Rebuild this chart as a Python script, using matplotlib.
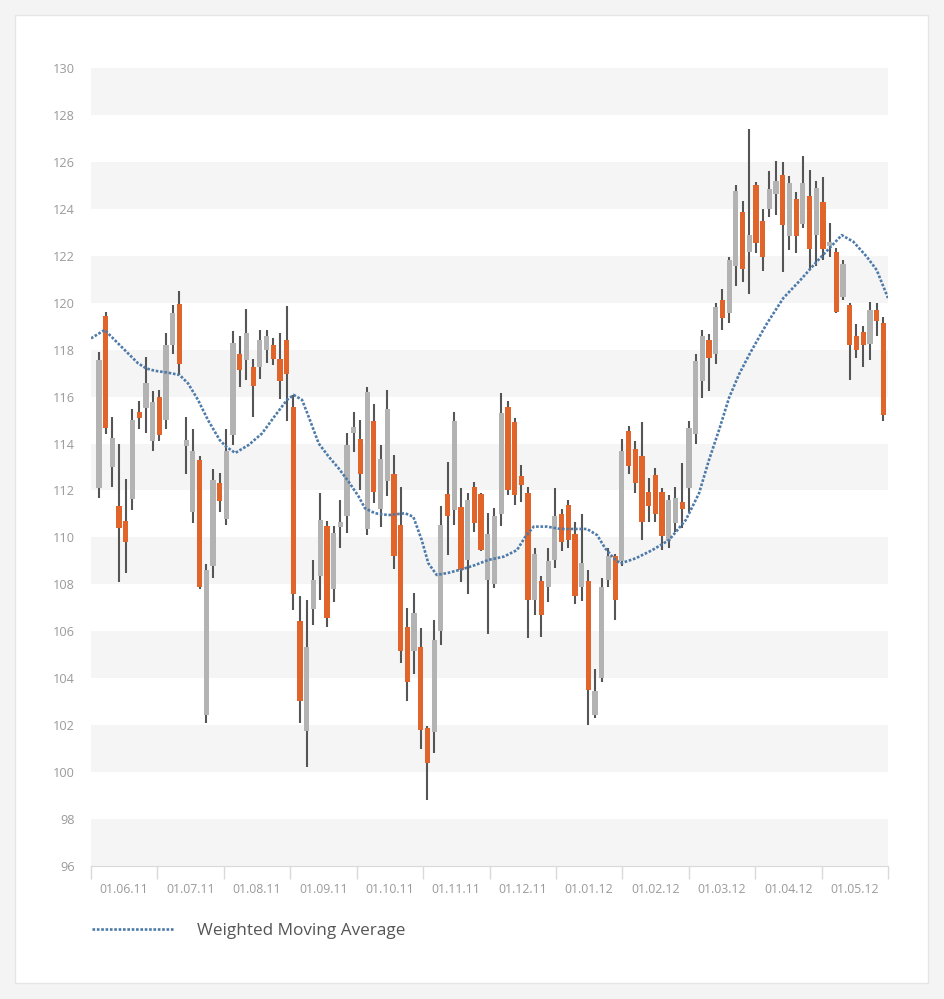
import numpy as np
import matplotlib.pyplot as plt
from matplotlib.patches import Rectangle
from matplotlib.lines import Line2D

# month labels (one category per month)
months = ['01.06.11', '01.07.11', '01.08.11', '01.09.11', '01.10.11', '01.11.11',
          '01.12.11', '01.01.12', '01.02.12', '01.03.12', '01.04.12', '01.05.12']

# OHLC, one entry per candle
opens = [112.1, 119.45, 113.0, 111.35, 110.7, 111.65, 115.35, 115.5, 114.1, 116.0,
         115.0, 118.2, 119.95, 113.9, 111.1, 113.3, 102.45, 108.8, 112.3, 110.8,
         114.35, 117.8, 117.55, 117.25, 117.25, 118.0, 118.2, 117.6, 118.4, 115.55,
         106.45, 101.75, 106.95, 108.35, 110.5, 107.8, 110.45, 110.9, 114.45, 114.2,
         110.35, 114.95, 111.2, 112.4, 112.7, 110.55, 106.2, 105.15, 105.35, 101.9,
         101.7, 106.0, 111.85, 111.15, 111.3, 109.05, 112.15, 111.85, 108.2, 108.0,
         111.0, 115.55, 114.9, 112.6, 111.9, 107.35, 108.15, 107.9, 109.05, 111.0,
         111.4, 110.15, 107.9, 108.15, 102.45, 104.0, 108.2, 109.2, 109.0, 114.55,
         113.75, 113.45, 111.95, 112.65, 111.95, 109.85, 110.6, 111.5, 112.1, 114.4,
         116.65, 118.4, 117.8, 120.1, 119.55, 121.55, 123.85, 122.15, 125.0, 123.5,
         124.0, 124.65, 125.45, 122.85, 124.4, 123.35, 124.55, 122.9, 124.3, 122.4,
         122.15, 120.25, 119.9, 118.6, 118.75, 118.25, 119.7, 119.15]
highs = [117.9, 119.6, 115.15, 114.0, 112.5, 115.45, 115.8, 117.7, 116.25, 116.3,
         118.7, 119.9, 120.5, 115.15, 114.6, 113.45, 108.85, 112.9, 112.75, 114.6,
         118.8, 118.6, 119.75, 117.6, 118.85, 118.85, 118.5, 118.7, 119.85, 116.05,
         107.5, 107.35, 109.05, 111.9, 110.7, 110.5, 111.6, 114.45, 115.35, 115.0,
         116.4, 115.7, 113.95, 116.3, 113.5, 112.15, 107.0, 107.65, 106.15, 101.95,
         106.5, 111.35, 113.2, 115.35, 112.1, 111.9, 112.35, 111.9, 111.05, 111.25,
         116.15, 115.8, 115.1, 113.1, 112.15, 109.55, 108.35, 109.55, 112.1, 111.2,
         111.6, 110.65, 111.0, 108.6, 104.4, 108.25, 109.55, 109.3, 114.2, 114.75,
         114.1, 114.9, 112.55, 112.95, 112.1, 111.8, 112.15, 113.15, 114.95, 117.8,
         118.85, 118.65, 120.0, 120.6, 121.95, 125.0, 124.35, 127.4, 125.15, 124.0,
         125.6, 126.05, 126.0, 125.4, 124.7, 126.25, 125.65, 125.2, 125.35, 123.4,
         122.35, 121.8, 120.0, 119.1, 119.0, 120.05, 120.0, 119.4]
lows = [111.7, 114.4, 112.15, 108.1, 108.5, 111.15, 114.6, 114.45, 113.7, 114.1,
        114.6, 117.8, 116.9, 112.7, 110.6, 107.8, 102.1, 108.25, 111.1, 110.55,
        113.95, 116.4, 116.7, 115.15, 116.75, 117.45, 117.35, 115.9, 114.95, 106.9,
        102.1, 100.2, 106.25, 107.35, 106.2, 107.25, 109.55, 110.2, 113.65, 112.0,
        110.1, 111.45, 110.45, 111.75, 108.65, 104.65, 103.05, 104.2, 101.0, 98.8,
        100.8, 105.4, 109.25, 110.55, 108.1, 107.6, 110.25, 109.4, 105.9, 107.85,
        110.5, 111.8, 111.4, 111.5, 105.7, 106.7, 105.75, 107.25, 108.7, 109.4,
        109.55, 107.15, 107.3, 102.0, 102.3, 103.85, 107.9, 106.5, 108.8, 112.7,
        111.9, 109.9, 110.65, 110.65, 109.45, 109.55, 110.25, 110.4, 111.1, 114.0,
        115.95, 116.25, 117.4, 118.85, 119.15, 120.7, 120.9, 120.35, 122.1, 121.35,
        123.65, 123.75, 121.3, 122.25, 122.1, 123.2, 121.4, 121.55, 121.8, 121.95,
        119.55, 120.1, 116.7, 117.65, 117.25, 117.55, 118.6, 114.95]
closes = [117.55, 114.65, 114.25, 110.4, 109.8, 115.0, 115.1, 116.6, 115.75, 114.35,
          118.2, 119.55, 117.4, 114.15, 113.7, 107.9, 108.6, 112.45, 111.55, 113.7,
          118.3, 117.15, 118.7, 116.45, 118.4, 118.6, 117.6, 116.65, 116.95, 107.6,
          103.05, 105.35, 108.2, 110.75, 106.55, 110.2, 110.65, 113.95, 114.7, 112.7,
          116.2, 111.95, 113.35, 115.45, 109.2, 105.15, 103.85, 106.8, 101.8, 100.4,
          105.65, 110.55, 110.9, 114.95, 108.6, 111.6, 110.6, 109.45, 110.15, 110.9,
          115.3, 112.0, 111.8, 112.25, 107.35, 109.3, 106.7, 109.0, 110.9, 109.8,
          109.9, 107.5, 108.9, 103.5, 103.45, 107.9, 109.2, 107.35, 113.7, 113.05,
          112.3, 110.65, 111.35, 111.0, 110.05, 111.6, 111.7, 111.2, 114.65, 117.5,
          118.6, 117.65, 119.8, 119.35, 121.8, 124.75, 121.45, 122.9, 122.55, 121.95,
          124.85, 125.2, 123.3, 125.1, 122.85, 125.1, 122.3, 124.9, 122.3, 122.6,
          119.6, 121.65, 118.2, 118.0, 118.2, 119.7, 119.2, 115.2]

# weighted moving average, sampled along the candle index
wma_pos = [-1.19, 0.85, 3.33, 5.82, 7.06, 8.31, 10.29, 12.04, 13.29, 14.77,
           16.26, 18.01, 18.99, 20.33, 22.33, 24.32, 26.3, 28.05, 29.05, 30.29,
           31.28, 32.78, 34.27, 35.76, 37.25, 38.74, 39.68, 41.17, 43.16, 45.65,
           46.89, 48.14, 49.13, 50.38, 52.11, 54.11, 56.09, 58.08, 60.38, 62.36,
           63.6, 64.85, 66.84, 68.82, 70.82, 72.8, 74.3, 75.53, 76.79, 77.77,
           80.07, 82.54, 85.04, 87.53, 89.51, 91.0, 92.5, 93.99, 95.48, 97.12,
           99.61, 102.09, 104.58, 107.07, 109.55, 110.8, 112.53, 114.53, 116.02, 117.7]
wma_val = [118.48, 118.84, 118.13, 117.42, 117.2, 117.1, 117.02, 116.92, 116.56, 115.86,
           115.0, 114.15, 113.86, 113.6, 113.94, 114.43, 115.2, 115.86, 116.07, 115.86,
           115.14, 114.0, 113.44, 112.94, 112.37, 111.74, 111.24, 111.03, 110.95, 111.03,
           110.88, 109.89, 108.9, 108.4, 108.49, 108.64, 108.82, 109.04, 109.18, 109.46,
           110.03, 110.46, 110.46, 110.36, 110.36, 110.36, 110.1, 109.53, 109.11, 108.89,
           109.11, 109.46, 109.89, 110.74, 111.88, 113.3, 114.58, 115.95, 116.95, 117.85,
           119.1, 120.2, 120.95, 121.75, 122.5, 122.88, 122.6, 121.96, 121.39, 120.2]

ORANGE = '#e1642a'
GREY = '#b3b3b3'
WICK = '#555555'
LABEL = '#9a9a9a'
BLUE = '#4d7aa8'

plt.rcParams['font.family'] = ['Open Sans', 'DejaVu Sans']

fig = plt.figure(figsize=(9.44, 9.99), dpi=100)
fig.patch.set_facecolor('#f4f4f4')
# white card behind everything
fig.patches.append(Rectangle((15 / 944, 1 - 983 / 999), 913 / 944, 968 / 999,
                             transform=fig.transFigure, facecolor='white',
                             edgecolor='#e6e6e6', lw=1, zorder=-10))

ax = fig.add_axes([91 / 944, 1 - 866 / 999, 797 / 944, 798 / 999])
ax.set_facecolor('none')
ax.set_zorder(5)

# alternating bands
for lo in range(96, 130, 4):
    ax.axhspan(lo, lo + 2, color='#f5f5f5', lw=0, zorder=0)

x = np.arange(len(opens))
o = np.array(opens)
c = np.array(closes)
up = c >= o
colors = [GREY if u else ORANGE for u in up]

ax.vlines(x, lows, highs, color=WICK, lw=1.5, zorder=2)
ax.bar(x, np.abs(c - o), bottom=np.minimum(o, c), width=0.78, color=colors,
       lw=0, zorder=3)

ax.plot(wma_pos, wma_val, color=BLUE, lw=1.9, linestyle=(0, (1, 0.65)),
        zorder=4)

x0, x1 = -1.19, 117.7
ax.set_xlim(x0, x1)
ax.set_ylim(96, 130)

edges = np.linspace(x0, x1, len(months) + 1)
ax.set_xticks(edges)
ax.set_xticklabels([])
ax.tick_params(axis='x', which='major', length=9, width=1, color='#d9d9d9')
ax.set_xticks((edges[:-1] + edges[1:]) / 2, minor=True)
ax.set_xticklabels(months, minor=True)
ax.tick_params(axis='x', which='minor', length=0, pad=12, labelsize=8.8,
               labelcolor=LABEL)

ax.set_yticks(range(96, 131, 2))
ax.tick_params(axis='y', length=0, pad=11.5, labelsize=9.2, labelcolor=LABEL)

for s in ['top', 'right', 'left']:
    ax.spines[s].set_visible(False)
ax.spines['bottom'].set_color('#d9d9d9')

handle = Line2D([], [], color=BLUE, lw=1.9, linestyle=(0, (1, 0.65)))
fig.legend(handles=[handle], labels=['Weighted Moving Average'],
           loc='center left', bbox_to_anchor=(77 / 944, 1 - 931 / 999),
           frameon=False, fontsize=12.3, handlelength=4.8, handletextpad=1.35,
           labelcolor='#555555')

fig.savefig('out.png', dpi=100, facecolor=fig.get_facecolor())
